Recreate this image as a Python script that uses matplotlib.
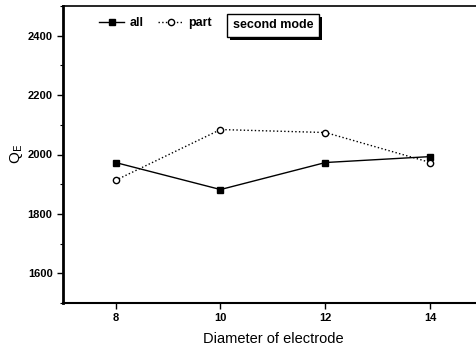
import matplotlib
matplotlib.use("Agg")
import matplotlib.pyplot as plt
from matplotlib.ticker import MultipleLocator
import matplotlib.patheffects as pe

plt.rcParams['font.family'] = ['Liberation Sans', 'DejaVu Sans']

diameters = [8, 10, 12, 14]
q_all = [1973, 1882, 1973, 1993]
q_part = [1913, 2084, 2074, 1973]

fig = plt.figure(figsize=(4.77, 3.51), dpi=100)
ax = fig.add_axes([63/477, 48/351, 420/477, 297/351])

ax.plot(diameters, q_all, '-', color='black', lw=1.0, marker='s', ms=4.5,
        mfc='black', mec='black', label='all')
ax.plot(diameters, q_part, ':', color='black', lw=1.0, marker='o', ms=4.5,
        mfc='white', mec='black', label='part')

ax.set_xlim(7, 15)
ax.set_ylim(1500, 2500)
ax.set_xticks(diameters)
ax.yaxis.set_major_locator(MultipleLocator(200))
ax.yaxis.set_minor_locator(MultipleLocator(100))
ax.tick_params(axis='both', which='major', direction='out', length=4, width=1,
               labelsize=8)
ax.tick_params(axis='both', which='minor', direction='out', length=2, width=0.8)
for lab in ax.get_xticklabels() + ax.get_yticklabels():
    lab.set_fontweight('bold')
for s in ax.spines.values():
    s.set_linewidth(1.2)
ax.spines['left'].set_linewidth(2)
ax.spines['bottom'].set_linewidth(1.5)

ax.set_xlabel('Diameter of electrode', fontsize=10.5, labelpad=6)
ax.set_ylabel(r'Q$_{\mathrm{E}}$', fontsize=11)
ax.yaxis.set_label_coords(-0.09, 0.5)

leg = ax.legend(loc='upper left', bbox_to_anchor=(0.06, 1.0), ncol=2,
                frameon=False, fontsize=9, handlelength=2.0,
                columnspacing=1.2, handletextpad=0.4)
for t in leg.get_texts():
    t.set_fontweight('bold')

ax.text(0.405, 0.955, 'second mode', transform=ax.transAxes, fontsize=9,
        fontweight='bold', va='top', ha='left',
        bbox=dict(boxstyle='square,pad=0.45', fc='white', ec='black', lw=1,
                  path_effects=[pe.withSimplePatchShadow(offset=(2, -2),
                                                         shadow_rgbFace='black',
                                                         alpha=1)]))

fig.savefig('out.png', dpi=100)
